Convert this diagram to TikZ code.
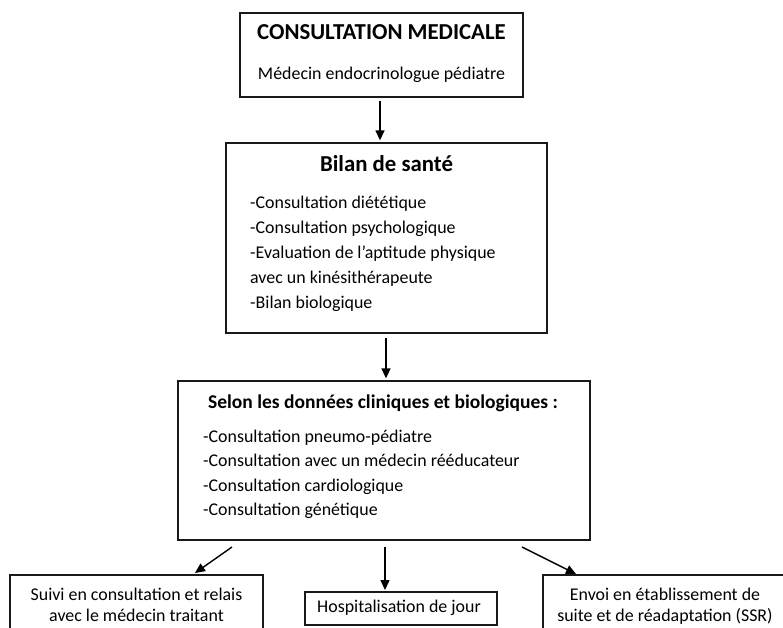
\documentclass[tikz,border=0pt]{standalone}
\usepackage{fontspec}
\setmainfont{Carlito}
\usetikzlibrary{arrows.meta,calc}
\tikzset{
  box/.style={draw=black!90, line width=1.3pt, rectangle, inner sep=0pt},
  arr/.style={line width=1.4pt, -{Triangle[length=10pt,width=9pt]}},
  bigtitle/.style={font=\fontsize{22.8}{27}\selectfont\bfseries, inner sep=0pt},
  midtitle/.style={font=\fontsize{19.5}{24}\selectfont\bfseries, inner sep=0pt},
  bodytext/.style={font=\fontsize{17.9}{25}\selectfont, inner sep=0pt},
  listtwo/.style={font=\fontsize{17.9}{25}\selectfont, inner sep=0pt, align=left},
  listthree/.style={font=\fontsize{17.9}{24.5}\selectfont, inner sep=0pt, align=left},
  bottomtext/.style={font=\fontsize{17.9}{21}\selectfont, inner sep=0pt, align=center}
}
\begin{document}
\begin{tikzpicture}[x=1pt,y=-1pt]
\useasboundingbox (0,0) rectangle (783,628);
\clip (0,0) rectangle (783,628);
% boxes
\node[box, minimum width=283pt, minimum height=84pt] (b1) at (381.5,55) {};
\node[box, minimum width=321pt, minimum height=190pt] (b2) at (386.5,238) {};
\node[box, minimum width=412pt, minimum height=159pt] (b3) at (384,460.5) {};
\node[box, minimum width=253pt, minimum height=75pt] (b4) at (136.5,612.5) {};
\node[box, minimum width=192pt, minimum height=33pt] (b5) at (401,608.5) {};
\node[box, minimum width=244pt, minimum height=75pt] (b6) at (665,612.5) {};
% texts (multi-line nodes: base anchor = baseline of last line)
\node[bigtitle, anchor=base] (t1) at (381.5,39.5) {CONSULTATION MEDICALE};
\node[bodytext, anchor=base] (s1) at (381.5,80) {Médecin endocrinologue pédiatre};
\node[bigtitle, anchor=base] (t2) at (386.5,172) {Bilan de santé};
\node[listtwo, anchor=base west] (l2) at (250,308) {-Consultation diététique\\-Consultation psychologique\\-Evaluation de l’aptitude physique\\avec un kinésithérapeute\\-Bilan biologique};
\node[midtitle, anchor=base] (t3) at (383,408) {Selon les données cliniques et biologiques :};
\node[listthree, anchor=base west] (l3) at (203,515.5) {-Consultation pneumo-pédiatre\\-Consultation avec un médecin rééducateur\\-Consultation cardiologique\\-Consultation génétique};
\node[bottomtext, anchor=base] (x4) at (136.5,621) {Suivi en consultation et relais\\avec le médecin traitant};
\node[bottomtext, anchor=base] (x5) at (399,612) {Hospitalisation de jour};
\node[bottomtext, anchor=base] (x6) at (665,621) {Envoi en établissement de\\suite et de réadaptation (SSR)};
% arrows
\draw[arr] ([xshift=-1.5pt,yshift=-3pt]b1.south) -- ([xshift=-6.5pt,yshift=2pt]b2.north);
\draw[arr] ([xshift=-0.5pt,yshift=-4pt]b2.south) -- ([xshift=2pt,yshift=2pt]b3.north);
\coordinate (lA) at (232,547);
\coordinate (lB) at (195,573);
\coordinate (mA) at (385,547);
\coordinate (mB) at (385,590);
\coordinate (rA) at (522,547);
\coordinate (rB) at (576,574);
\draw[arr] (lA) -- (lB);
\draw[arr] (mA) -- (mB);
\draw[arr] (rA) -- (rB);
\end{tikzpicture}
\end{document}
